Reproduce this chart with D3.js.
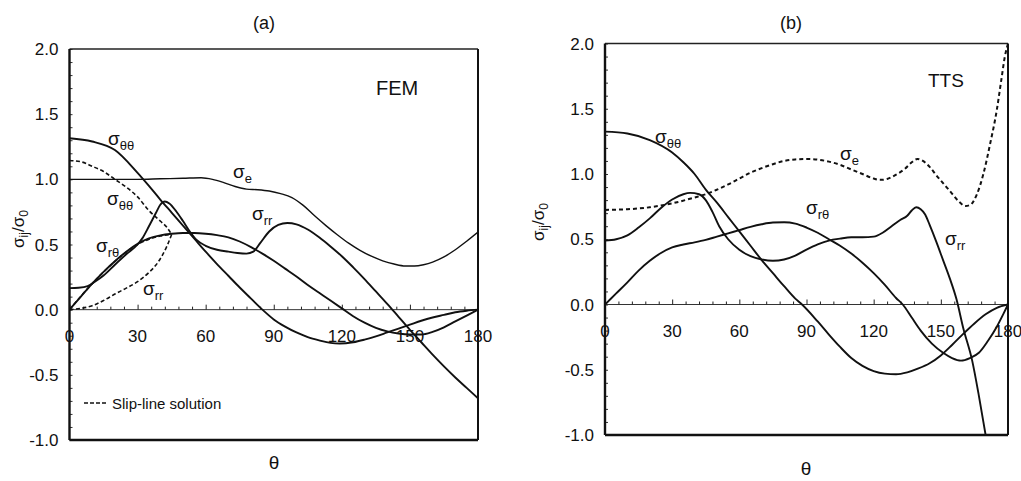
<!DOCTYPE html>
<html>
<head>
<meta charset="utf-8">
<script src="https://cdn.jsdelivr.net/npm/d3@7"></script>
<style>
  html, body { margin: 0; padding: 0; background: #fff; }
  svg { display: block; font-family: "Liberation Sans", Arial, sans-serif; }
</style>
</head>
<body>
<svg id="chart" width="1021" height="481"></svg>
<script>
// Angle and stress tick values
const thetaTicks = [0, 30, 60, 90, 120, 150, 180];
const stressTicks = [-1.0, -0.5, 0.0, 0.5, 1.0, 1.5, 2.0];

// (a) FEM results: [theta (deg), sigma / sigma0]
const femSigmaTT = [[0,1.315],[10,1.29],[20,1.225],[30,1.05],[35,0.95],[40,0.845],[45,0.745],[50,0.645],[55,0.545],[60,0.445],[65,0.35],[70,0.26],[75,0.17],[80,0.085],[85,0.0],[90,-0.075],[95,-0.13],[100,-0.175],[105,-0.21],[110,-0.235],[115,-0.255],[119,-0.26],[125,-0.25],[130,-0.23],[135,-0.205],[140,-0.175],[145,-0.145],[150,-0.115],[155,-0.085],[160,-0.06],[165,-0.04],[170,-0.02],[175,-0.008],[180,0.0]];
const femSigmaRR = [[0,0.165],[4,0.168],[8,0.18],[11,0.212],[15,0.262],[20,0.345],[25,0.425],[30,0.5],[32,0.545],[35,0.64],[38,0.74],[40,0.805],[42,0.83],[44,0.815],[47,0.755],[50,0.68],[53,0.6],[56,0.535],[60,0.49],[65,0.46],[70,0.445],[74,0.435],[78,0.43],[81,0.445],[84,0.51],[88,0.6],[92,0.65],[96,0.665],[100,0.655],[105,0.615],[110,0.555],[115,0.485],[120,0.41],[125,0.325],[130,0.235],[135,0.14],[140,0.045],[145,-0.055],[150,-0.155],[155,-0.25],[160,-0.345],[165,-0.435],[170,-0.52],[175,-0.6],[180,-0.68]];
const femSigmaRT = [[0,0.0],[5,0.1],[10,0.2],[15,0.29],[20,0.372],[25,0.445],[30,0.505],[35,0.547],[40,0.57],[45,0.582],[50,0.588],[55,0.588],[60,0.583],[65,0.572],[70,0.555],[75,0.523],[80,0.48],[85,0.43],[90,0.375],[95,0.315],[100,0.255],[105,0.19],[110,0.13],[115,0.07],[120,0.01],[125,-0.05],[130,-0.1],[135,-0.14],[140,-0.167],[145,-0.183],[150,-0.19],[155,-0.19],[160,-0.17],[165,-0.135],[170,-0.09],[175,-0.045],[180,0.0]];
const femSigmaE = [[0,1.0],[10,1.0],[20,1.0],[30,1.0],[40,1.004],[50,1.008],[58,1.012],[63,1.0],[68,0.975],[73,0.945],[78,0.925],[83,0.92],[88,0.91],[93,0.89],[98,0.86],[103,0.8],[108,0.72],[113,0.645],[118,0.575],[123,0.51],[128,0.455],[133,0.41],[138,0.375],[143,0.35],[148,0.335],[152,0.335],[156,0.345],[160,0.365],[165,0.405],[170,0.46],[175,0.525],[180,0.595]];

// (a) slip-line solution
const slipSigmaTT = [[0,1.145],[5,1.135],[10,1.1],[15,1.06],[20,1.0],[25,0.94],[30,0.865],[35,0.76],[40,0.68],[43,0.63],[45,0.577]];
const slipSigmaRR = [[0,0.0],[5,0.01],[10,0.03],[15,0.07],[20,0.12],[25,0.165],[30,0.215],[35,0.285],[38,0.34],[41,0.42],[43,0.49],[45,0.577]];
const slipSigmaRT = [[0,0.0],[10,0.2],[20,0.37],[30,0.5],[40,0.565],[45,0.577]];

// (b) TTS results
const ttsSigmaTT = [[0,1.325],[10,1.31],[20,1.26],[30,1.165],[35,1.09],[40,1.0],[45,0.88],[50,0.78],[55,0.67],[60,0.56],[65,0.45],[70,0.34],[75,0.24],[80,0.14],[85,0.045],[88,0.0],[95,-0.13],[100,-0.23],[105,-0.325],[110,-0.41],[115,-0.47],[120,-0.51],[125,-0.53],[130,-0.535],[135,-0.52],[140,-0.49],[145,-0.45],[150,-0.39],[155,-0.31],[160,-0.225],[165,-0.145],[170,-0.075],[175,-0.025],[180,0.0]];
const ttsSigmaRR = [[0,0.49],[5,0.5],[10,0.53],[15,0.59],[20,0.66],[25,0.74],[30,0.805],[35,0.845],[38,0.855],[42,0.845],[45,0.8],[48,0.71],[51,0.6],[55,0.5],[60,0.42],[65,0.37],[70,0.345],[75,0.335],[80,0.345],[85,0.375],[90,0.42],[95,0.46],[100,0.49],[105,0.505],[110,0.515],[115,0.515],[120,0.52],[124,0.55],[128,0.6],[132,0.65],[135,0.68],[137,0.72],[139,0.745],[141,0.73],[143,0.69],[145,0.61],[148,0.48],[151,0.34],[154,0.2],[157,0.04],[160,-0.18],[164,-0.43],[167,-0.7],[170,-1.0],[171,-1.1]];
const ttsSigmaRT = [[0,0.0],[5,0.085],[10,0.17],[15,0.26],[20,0.335],[25,0.395],[30,0.438],[35,0.46],[40,0.476],[45,0.495],[50,0.52],[55,0.545],[60,0.57],[65,0.595],[70,0.615],[75,0.628],[80,0.63],[85,0.62],[90,0.59],[95,0.55],[100,0.5],[105,0.45],[110,0.39],[115,0.32],[120,0.24],[125,0.15],[130,0.05],[133,0.0],[137,-0.1],[141,-0.2],[146,-0.3],[151,-0.37],[155,-0.41],[159,-0.43],[163,-0.41],[167,-0.37],[171,-0.28],[175,-0.17],[178,-0.07],[180,0.0]];
const ttsSigmaE = [[0,0.725],[10,0.73],[20,0.745],[30,0.775],[40,0.82],[45,0.845],[50,0.88],[55,0.92],[60,0.965],[65,1.01],[70,1.045],[75,1.075],[80,1.1],[85,1.112],[90,1.115],[95,1.11],[100,1.095],[105,1.07],[110,1.035],[115,1.0],[120,0.965],[123,0.955],[126,0.962],[130,0.995],[134,1.04],[137,1.09],[139.5,1.115],[142,1.1],[145,1.055],[148,0.99],[151,0.93],[155,0.85],[158,0.79],[161,0.755],[163,0.762],[166,0.84],[169,1.0],[172,1.23],[175,1.49],[177,1.72],[178.6,1.9],[180,2.0]];

const svg = d3.select("#chart");

function sigmaLabel(g, x, y, sub) {
  const t = g.append("text").attr("x", x).attr("y", y)
    .attr("font-size", 19).attr("fill", "#111");
  t.append("tspan").text("σ");
  t.append("tspan").attr("font-size", 13).attr("dy", 5).text(sub);
}

function drawPanel(cfg) {
  const x = d3.scaleLinear().domain([0, 180]).range([cfg.left, cfg.right]);
  const y = d3.scaleLinear().domain([-1, 2]).range([cfg.bottom, cfg.top]);
  const g = svg.append("g");

  const clipId = "clip-" + cfg.id;
  svg.append("clipPath").attr("id", clipId).append("rect")
    .attr("x", cfg.left).attr("y", cfg.top)
    .attr("width", cfg.right - cfg.left).attr("height", cfg.bottom - cfg.top);

  // zero line with degree ticks
  g.append("line").attr("x1", x(0)).attr("x2", x(180))
    .attr("y1", y(0)).attr("y2", y(0))
    .attr("stroke", "#333").attr("stroke-width", 1);
  const minor = d3.axisTop(x).tickValues(d3.range(0, 181, 6)).tickSize(3).tickFormat("");
  const zg = g.append("g").attr("transform", `translate(0,${y(0)})`).call(minor);
  zg.select(".domain").remove();
  zg.selectAll(".tick line").attr("stroke", "#222")
    .attr("y2", d => (d % 30 === 0 ? -5 : -3));

  // left axis minor ticks (inward)
  const lt = d3.axisRight(y).tickValues(d3.range(-10, 21).map(v => v / 10)).tickSize(3).tickFormat("");
  const lg = g.append("g").attr("transform", `translate(${cfg.left},0)`).call(lt);
  lg.select(".domain").remove();
  lg.selectAll(".tick line").attr("stroke", "#333");

  // frame
  g.append("line").attr("x1", cfg.left).attr("x2", cfg.right).attr("y1", cfg.top).attr("y2", cfg.top)
    .attr("stroke", "#222").attr("stroke-width", 1.3);
  g.append("line").attr("x1", cfg.left).attr("x2", cfg.right).attr("y1", cfg.bottom).attr("y2", cfg.bottom)
    .attr("stroke", "#111").attr("stroke-width", 2.4);
  g.append("line").attr("x1", cfg.left).attr("x2", cfg.left).attr("y1", cfg.top).attr("y2", cfg.bottom)
    .attr("stroke", "#111").attr("stroke-width", 2.4);
  g.append("line").attr("x1", cfg.right).attr("x2", cfg.right).attr("y1", cfg.top).attr("y2", cfg.bottom)
    .attr("stroke", "#111").attr("stroke-width", 2);

  // stress tick labels
  g.selectAll(".ylab").data(stressTicks).enter().append("text")
    .attr("x", cfg.left - 11).attr("y", d => y(d) + 6)
    .attr("text-anchor", "end").attr("font-size", 17).attr("fill", "#111")
    .text(d => d3.format(".1f")(d).replace("−", "-"));

  // angle tick labels
  g.selectAll(".xlab").data(thetaTicks).enter().append("text")
    .attr("x", d => x(d)).attr("y", y(0) + 32)
    .attr("text-anchor", "middle").attr("font-size", 17).attr("fill", "#111")
    .text(d => d);

  // curves
  const line = d3.line().x(d => x(d[0])).y(d => y(d[1])).curve(d3.curveMonotoneX);
  const cg = g.append("g").attr("clip-path", `url(#${clipId})`);
  cfg.series.forEach(s => {
    cg.append("path").attr("d", line(s.data))
      .attr("fill", "none").attr("stroke", "#111")
      .attr("stroke-width", s.width || 1.9)
      .attr("stroke-dasharray", s.dash || null)
      .attr("stroke-linejoin", "round");
  });

  // panel title, axis titles
  g.append("text").attr("x", cfg.titleX).attr("y", 29).attr("text-anchor", "middle")
    .attr("font-size", 18).attr("fill", "#111").text(cfg.title);
  g.append("text").attr("x", cfg.thetaX).attr("y", cfg.thetaY).attr("text-anchor", "middle")
    .attr("font-size", 19).attr("fill", "#111").text("θ");
  const yl = g.append("text")
    .attr("transform", `translate(${cfg.ylabX},${cfg.ylabY}) rotate(-90)`)
    .attr("text-anchor", "middle").attr("font-size", 17).attr("fill", "#111");
  yl.append("tspan").text("σ");
  yl.append("tspan").attr("font-size", 12).attr("dy", 4).text("ij");
  yl.append("tspan").attr("dy", -4).text("/σ");
  yl.append("tspan").attr("font-size", 12).attr("dy", 4).text("0");

  g.append("text").attr("x", cfg.method.x).attr("y", cfg.method.y)
    .attr("font-size", cfg.method.size).attr("fill", "#111").text(cfg.method.text);

  cfg.labels.forEach(l => sigmaLabel(g, l.x, l.y, l.sub));
  return { g, x, y };
}

const panelA = drawPanel({
  id: "a", left: 69.5, right: 478, top: 49, bottom: 440,
  title: "(a)", titleX: 264, thetaX: 274, thetaY: 469, ylabX: 24, ylabY: 229,
  method: { text: "FEM", x: 376, y: 95, size: 20 },
  series: [
    { data: femSigmaTT },
    { data: femSigmaRR },
    { data: femSigmaRT },
    { data: femSigmaE, width: 1.4 },
    { data: slipSigmaTT, dash: "4,2.5", width: 1.6 },
    { data: slipSigmaRR, dash: "4,2.5", width: 1.6 },
    { data: slipSigmaRT, dash: "4,2.5", width: 1.6 }
  ],
  labels: [
    { x: 108, y: 145, sub: "θθ" },
    { x: 233, y: 178, sub: "e" },
    { x: 107, y: 205, sub: "θθ" },
    { x: 252, y: 220, sub: "rr" },
    { x: 96, y: 252, sub: "rθ" },
    { x: 143, y: 295, sub: "rr" }
  ]
});

// legend for the slip-line curves
panelA.g.append("line").attr("x1", 84).attr("x2", 106).attr("y1", 403).attr("y2", 403)
  .attr("stroke", "#111").attr("stroke-width", 1.5).attr("stroke-dasharray", "4,2");
panelA.g.append("text").attr("x", 112).attr("y", 409).attr("font-size", 15)
  .attr("fill", "#111").text("Slip-line solution");

drawPanel({
  id: "b", left: 605, right: 1008, top: 43.5, bottom: 435,
  title: "(b)", titleX: 791, thetaX: 806, thetaY: 475, ylabX: 544, ylabY: 222,
  method: { text: "TTS", x: 928, y: 87, size: 19 },
  series: [
    { data: ttsSigmaTT },
    { data: ttsSigmaRR },
    { data: ttsSigmaRT },
    { data: ttsSigmaE, dash: "4,3", width: 2 }
  ],
  labels: [
    { x: 655, y: 143, sub: "θθ" },
    { x: 840, y: 160, sub: "e" },
    { x: 806, y: 214, sub: "rθ" },
    { x: 945, y: 245, sub: "rr" }
  ]
});
</script>
</body>
</html>
